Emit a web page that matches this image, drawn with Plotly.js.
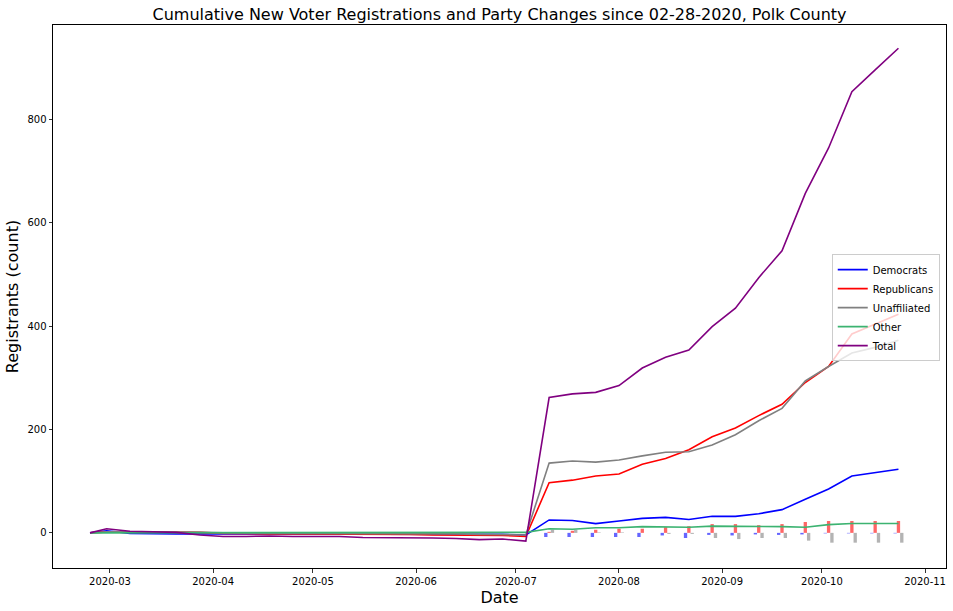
<!DOCTYPE html>
<html>
<head>
<meta charset="utf-8">
<script src="https://cdn.plot.ly/plotly-3.0.1.min.js"></script>
<style>html,body{margin:0;padding:0;background:#fff;}#chart{width:953px;height:611px;}</style>
</head>
<body>
<div id="chart"></div>
<script>
// Line dates (initial snapshot, then weekly Saturdays)
const dates = [
  '2020-02-24','2020-02-29','2020-03-07','2020-03-14','2020-03-21','2020-03-28',
  '2020-04-04','2020-04-11','2020-04-18','2020-04-25','2020-05-02','2020-05-09',
  '2020-05-16','2020-05-23','2020-05-30','2020-06-06','2020-06-13','2020-06-20',
  '2020-06-27','2020-07-04',
  '2020-07-11','2020-07-18','2020-07-25','2020-08-01','2020-08-08','2020-08-15',
  '2020-08-22','2020-08-29','2020-09-05','2020-09-12','2020-09-19','2020-09-26',
  '2020-10-03','2020-10-10','2020-10-17','2020-10-24'
];
const democrats = [0,4,-1,-2,-2,-2,-2,-2,-2,-2,-2,-2,-3,-3,-3,-3,-3,-3,-3,-4,
  25,24,18,23,28,30,26,32,32,37,45,65,85,110,117,123];
const republicans = [0,2,2,2,2,1,-1,-2,-2,-2,-2,-2,-3,-3,-3,-4,-4,-5,-5,-7,
  97,102,110,114,133,144,161,186,203,227,249,291,322,385,404,423];
const unaffiliated = [0,2,2,2,2,1,0,-1,-1,-1,-1,-1,-1,-2,-2,-2,-2,-3,-3,-4,
  135,139,137,141,149,156,157,170,190,217,241,294,322,348,359,373];
const other = [0,0,0,0,1,1,1,1,1,1,1,1,1,1,1,1,1,1,1,1,
  8,7,10,10,12,11,11,13,13,13,12,11,16,18,18,18];
const total = [0,8,3,2,1,-4,-7,-7,-6,-7,-7,-7,-9,-9,-9,-10,-11,-13,-12,-16,
  262,269,272,285,319,340,354,399,435,494,546,657,745,854,896,938];

// Party change bars (weekly, from July)
const barDates = ['2020-07-11','2020-07-18','2020-07-25','2020-08-01','2020-08-08','2020-08-15',
  '2020-08-22','2020-08-29','2020-09-05','2020-09-12','2020-09-19','2020-09-26','2020-10-03',
  '2020-10-10','2020-10-17','2020-10-24'];
const demChange = [-8,-8,-8,-8,-8,-5,-10,-4,-5,-3,-4,-3,-1,-1,-1,-1];
const repChange = [2,4,6,8,8,11,13,17,17,15,17,21,23,23,23,23];
const unaChange = [6,6,1,1,0,-2,-2,-10,-12,-10,-10,-15,-19,-19,-19,-19];

const DAY = 86400000;
const lineW = 1.6;
const traces = [
  {type:'bar', x:barDates, y:demChange, width:DAY, offset:-1.5*DAY, marker:{color:'rgba(0,0,255,0.6)'}, showlegend:false, hoverinfo:'skip'},
  {type:'bar', x:barDates, y:repChange, width:DAY, offset:-0.5*DAY, marker:{color:'rgba(255,0,0,0.6)'}, showlegend:false, hoverinfo:'skip'},
  {type:'bar', x:barDates, y:unaChange, width:DAY, offset:0.5*DAY, marker:{color:'rgba(128,128,128,0.6)'}, showlegend:false, hoverinfo:'skip'},
  {type:'scatter', mode:'lines', x:dates, y:democrats, name:'Democrats', line:{color:'#0000ff', width:lineW}},
  {type:'scatter', mode:'lines', x:dates, y:republicans, name:'Republicans', line:{color:'#ff0000', width:lineW}},
  {type:'scatter', mode:'lines', x:dates, y:unaffiliated, name:'Unaffiliated', line:{color:'#808080', width:lineW}},
  {type:'scatter', mode:'lines', x:dates, y:other, name:'Other', line:{color:'#3cb371', width:lineW}},
  {type:'scatter', mode:'lines', x:dates, y:total, name:'Total', line:{color:'#800080', width:lineW}}
];

const font = 'DejaVu Sans, sans-serif';
const layout = {
  width:953, height:611,
  margin:{l:53, r:7, t:25, b:43, pad:0},
  paper_bgcolor:'#ffffff', plot_bgcolor:'#ffffff',
  font:{family:font, size:10, color:'#000'},
  barmode:'overlay',
  title:{text:'Cumulative New Voter Registrations and Party Changes since 02-28-2020, Polk County',
    font:{family:font, size:16, color:'#000'}, x:0.5, xref:'paper', y:1-14/611, yref:'container', yanchor:'middle'},
  xaxis:{type:'date', range:['2020-02-12 21:00','2020-11-07 07:00'],
    tickformat:'%Y-%m', dtick:'M1', tick0:'2020-03-01',
    ticks:'outside', ticklen:3.5, tickcolor:'#000', tickwidth:0.8,
    showgrid:false, zeroline:false, showline:true, mirror:true, linecolor:'#000', linewidth:1,
    tickfont:{family:font, size:10, color:'#000'},
    title:{text:'Date', font:{family:font, size:16, color:'#000'}, standoff:6}},
  yaxis:{range:[-68, 983], tickvals:[0,200,400,600,800],
    ticks:'outside', ticklen:3.5, tickcolor:'#000', tickwidth:0.8,
    showgrid:false, zeroline:false, showline:true, mirror:true, linecolor:'#000', linewidth:1,
    tickfont:{family:font, size:10, color:'#000'},
    title:{text:'Registrants (count)', font:{family:font, size:16, color:'#000'}, standoff:4}},
  legend:{x:0.993, xanchor:'right', y:0.578, yanchor:'top',
    bgcolor:'rgba(255,255,255,0.8)', bordercolor:'#cccccc', borderwidth:1,
    font:{family:font, size:10, color:'#000'}, tracegroupgap:0, itemwidth:30}
};

Plotly.newPlot('chart', traces, layout, {displayModeBar:false, staticPlot:true});
</script>
</body>
</html>
